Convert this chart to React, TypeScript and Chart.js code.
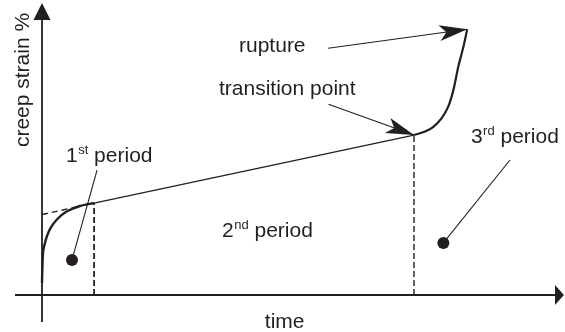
import { useEffect, useRef } from "react";
import { Chart, registerables } from "chart.js";

Chart.register(...registerables);

// Creep curve: primary (decelerating), secondary (steady), tertiary (accelerating)
const primaryTime = [0, 0.1, 0.3, 0.8, 1.3, 2.2, 4.0, 6.6, 10.2, 14.0];
const primaryStrain = [4.5, 10.2, 16.2, 19.6, 22.0, 25.0, 28.4, 31.4, 33.5, 34.6];

const secondaryTime = [14.0, 57.0, 100.0];
const secondaryStrain = [34.6, 47.4, 60.2];

const tertiaryTime = [100.0, 103.0, 105.2, 107.4, 109.2, 110.6, 111.9, 113.3, 114.3];
const tertiaryStrain = [60.2, 61.5, 63.3, 66.5, 70.9, 77.2, 85.9, 93.5, 100.0];

// Extrapolated steady-state line back to the strain axis
const tangentTime = [0, 14.0];
const tangentStrain = [30.3, 34.6];

// Period boundaries
const boundaryTime = [14.0, 100.0];
const boundaryStrain = [34.6, 60.2];

const font = (size: number) => `${size}px "Liberation Sans", Arial, Helvetica, sans-serif`;
const INK = "#231f20";

const pts = (xs: number[], ys: number[]) => xs.map((x, i) => ({ x, y: ys[i] }));

type P = { x: number; y: number };

const line = (data: P[], width: number, extra: Record<string, unknown> = {}) => ({
  data,
  showLine: true,
  borderColor: INK,
  backgroundColor: INK,
  borderWidth: width,
  pointRadius: 0,
  tension: 0,
  ...extra,
});

export default function App() {
  const ref = useRef<HTMLCanvasElement>(null);

  useEffect(() => {
    if (!ref.current) return;

    // annotation geometry in data units
    const xAxisFrom = { x: -7.26, y: 0 };
    const xAxisTo = { x: 137.9, y: 0 };
    const xArrowTip = { x: 140.3, y: 0 };
    const yAxisFrom = { x: 0, y: -10.16 };
    const yAxisTo = { x: 0, y: 103.5 };
    const yArrowTip = { x: 0, y: 109.9 };

    const ruptureArrow = [{ x: 76.9, y: 92.85 }, { x: tertiaryTime[tertiaryTime.length - 1], y: tertiaryStrain[tertiaryStrain.length - 1] }];
    const transitionArrow = [{ x: 77.0, y: 71.8 }, { x: boundaryTime[1], y: boundaryStrain[1] }];

    const firstPointer = [{ x: 14.8, y: 47.0 }, { x: 8.06, y: 13.2 }];
    const thirdPointer = [{ x: 125.8, y: 50.8 }, { x: 107.9, y: 19.6 }];

    const annotate = {
      id: "annotate",
      afterDatasetsDraw(chart: Chart) {
        const ctx = chart.ctx;
        const sx = chart.scales.x;
        const sy = chart.scales.y;
        const px = (p: P) => [sx.getPixelForValue(p.x), sy.getPixelForValue(p.y)];

        ctx.save();
        ctx.fillStyle = INK;
        ctx.strokeStyle = INK;

        // solid triangular arrowheads on the axes
        const tri = (tip: P, base: P, half: number) => {
          const [tx, ty] = px(tip);
          const [bx, by] = px(base);
          const a = Math.atan2(ty - by, tx - bx);
          const nx = -Math.sin(a) * half;
          const ny = Math.cos(a) * half;
          ctx.beginPath();
          ctx.moveTo(tx, ty);
          ctx.lineTo(bx + nx, by + ny);
          ctx.lineTo(bx - nx, by - ny);
          ctx.closePath();
          ctx.fill();
        };
        tri(xArrowTip, xAxisTo, 10);
        tri(yArrowTip, yAxisTo, 8.5);

        // barbed arrowheads on the callouts
        const barb = (from: P, to: P) => {
          const [fx, fy] = px(from);
          const [tx, ty] = px(to);
          const a = Math.atan2(ty - fy, tx - fx);
          const len = 28;
          const half = 8;
          const notch = 21;
          const cx = Math.cos(a);
          const cy = Math.sin(a);
          const bx = tx - cx * len;
          const by = ty - cy * len;
          ctx.beginPath();
          ctx.moveTo(tx, ty);
          ctx.lineTo(bx - cy * half, by + cx * half);
          ctx.lineTo(tx - cx * notch, ty - cy * notch);
          ctx.lineTo(bx + cy * half, by - cx * half);
          ctx.closePath();
          ctx.fill();
        };
        barb(ruptureArrow[0], ruptureArrow[1]);
        barb(transitionArrow[0], transitionArrow[1]);

        // text
        ctx.textBaseline = "alphabetic";
        const text = (s: string, at: P, align: CanvasTextAlign = "left") => {
          const [x, y] = px(at);
          ctx.font = font(21);
          ctx.textAlign = align;
          ctx.fillText(s, x, y);
        };
        const period = (num: string, sup: string, at: P) => {
          let [x, y] = px(at);
          ctx.textAlign = "left";
          ctx.font = font(21);
          ctx.fillText(num, x, y);
          x += ctx.measureText(num).width + 0.5;
          ctx.font = font(13);
          ctx.fillText(sup, x, y - 7.5);
          x += ctx.measureText(sup).width;
          ctx.font = font(21);
          ctx.fillText(" period", x, y);
        };

        text("rupture", { x: 52.96, y: 91.46 });
        text("transition point", { x: 47.58, y: 75.27 });
        text("time", { x: 65.24, y: -12.42 }, "center");
        period("1", "st", { x: 6.45, y: 50.06 });
        period("2", "nd", { x: 48.39, y: 21.83 });
        period("3", "rd", { x: 115.3, y: 57.21 });

        const [lx, ly] = px({ x: -3.49, y: 80.92 });
        ctx.translate(lx, ly);
        ctx.rotate(-Math.PI / 2);
        ctx.font = font(21);
        ctx.textAlign = "center";
        ctx.fillText("creep strain %", 0, 0);

        ctx.restore();
      },
    };

    const chart = new Chart(ref.current, {
      type: "scatter",
      data: {
        datasets: [
          line([xAxisFrom, xAxisTo], 1.8),
          line([yAxisFrom, yAxisTo], 1.8),
          line(pts(tangentTime, tangentStrain), 1.4, { borderDash: [6, 4] }),
          line([{ x: boundaryTime[0], y: 0 }, { x: boundaryTime[0], y: boundaryStrain[0] }], 1.8, { borderDash: [6, 3] }),
          line([{ x: boundaryTime[1], y: 0 }, { x: boundaryTime[1], y: boundaryStrain[1] }], 1.4, { borderDash: [6, 3] }),
          line(pts(primaryTime, primaryStrain), 2.4, { tension: 0.3 }),
          line(pts(secondaryTime, secondaryStrain), 1.3),
          line(pts(tertiaryTime, tertiaryStrain), 2.2, { tension: 0.3 }),
          line(ruptureArrow, 1.1),
          line(transitionArrow, 1.1),
          line(firstPointer, 1.1),
          line(thirdPointer, 1.1),
          {
            data: [firstPointer[1], thirdPointer[1]],
            showLine: false,
            pointRadius: 6,
            pointBackgroundColor: INK,
            pointBorderColor: INK,
            pointBorderWidth: 0,
          },
        ],
      },
      options: {
        responsive: false,
        animation: false,
        layout: { padding: 0, autoPadding: false },
        plugins: {
          legend: { display: false },
          tooltip: { enabled: false },
        },
        events: [],
        scales: {
          x: { type: "linear", display: false, min: -11.29, max: 140.59 },
          y: { type: "linear", display: false, min: -13.93, max: 111.03 },
        },
      },
      plugins: [annotate],
    });

    return () => chart.destroy();
  }, []);

  return (
    <div style={{ position: "fixed", left: 0, top: 0, width: 565, height: 332, background: "#fff" }}>
      <canvas ref={ref} width={565} height={332} style={{ display: "block", width: 565, height: 332 }} />
    </div>
  );
}
